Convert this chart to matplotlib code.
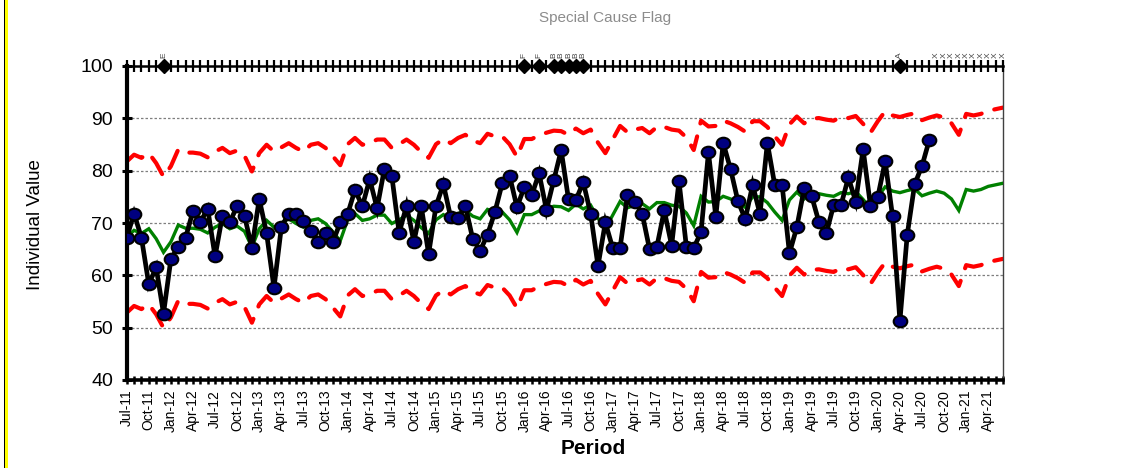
import numpy as np
import pandas as pd
import matplotlib
matplotlib.use("Agg")
import matplotlib.pyplot as plt
from matplotlib.path import Path
from matplotlib.transforms import Affine2D
from matplotlib.patches import Rectangle

plt.rcParams['font.family'] = ['Liberation Sans', 'DejaVu Sans']

# ---------------- data ----------------
periods = list(pd.date_range('2011-07-01', periods=120, freq='MS').strftime('%b-%y'))

individual_values = [
    67.2, 71.8, 67.2, 58.3, 61.5, 52.7, 63.1, 65.5, 67.2, 72.3,
    70.2, 72.7, 63.6, 71.4, 70.1, 73.3, 71.3, 65.3, 74.6, 68.0,
    57.6, 69.2, 71.8, 71.7, 70.4, 68.5, 66.4, 68.1, 66.4, 70.1,
    71.7, 76.3, 73.2, 78.4, 72.8, 80.4, 79.0, 68.1, 73.3, 66.4,
    73.2, 64.1, 73.2, 77.4, 71.1, 70.9, 73.2, 66.9, 64.7, 67.8,
    72.1, 77.6, 79.0, 73.0, 76.9, 75.3, 79.5, 72.5, 78.2, 83.9,
    74.5, 74.4, 77.8, 71.8, 61.8, 70.1, 65.2, 65.3, 75.3, 74.1,
    71.8, 65.0, 65.5, 72.4, 65.7, 78.0, 65.5, 65.2, 68.3, 83.5,
    71.2, 85.3, 80.3, 74.2, 70.7, 77.3, 71.7, 85.3, 77.3, 77.3,
    64.2, 69.2, 76.6, 75.2, 70.2, 68.0, 73.4, 73.4, 78.7, 74.1,
    84.1, 73.3, 75.0, 81.8, 71.3, 51.3, 67.8, 77.4, 80.9, 85.9,
]

center_line = [
    67.3, 68.6, 68.0, 68.9, 67.0, 64.4, 66.4, 69.6, 69.0, 69.0,
    68.8, 68.1, 69.2, 69.9, 68.9, 69.4, 68.4, 65.4, 68.9, 70.5,
    69.2, 70.0, 70.8, 69.9, 69.2, 70.5, 70.8, 69.9, 68.3, 66.6,
    70.6, 71.8, 70.5, 70.8, 71.5, 71.5, 69.9, 70.6, 71.5, 70.5,
    69.1, 68.0, 70.6, 71.6, 70.8, 71.8, 72.4, 71.3, 70.8, 72.6,
    72.1, 72.1, 70.6, 68.2, 71.6, 71.6, 72.3, 72.8, 73.2, 73.1,
    72.4, 73.6, 72.7, 73.4, 70.9, 68.9, 71.5, 74.1, 72.9, 73.4,
    73.7, 72.7, 73.9, 73.9, 73.4, 73.2, 71.9, 69.5, 75.1, 74.0,
    74.1, 75.1, 74.6, 73.9, 73.0, 75.0, 75.0, 73.9, 72.1, 70.5,
    74.4, 75.9, 74.6, 75.5, 75.6, 75.3, 75.1, 75.8, 75.6, 76.0,
    74.5, 72.8, 75.0, 76.9, 76.1, 75.8, 76.2, 76.5, 75.2, 75.7,
    76.1, 75.7, 74.6, 72.4, 76.4, 76.1, 76.4, 77.0, 77.3, 77.6,
]
limit_half_width = 14.45
upper_limit = [c + limit_half_width for c in center_line]
lower_limit = [c - limit_half_width for c in center_line]

flag_positions = [5, 54, 56, 58, 59, 60, 61, 62, 105,
                  110, 111, 112, 113, 114, 115, 116, 117, 118, 119]
flag_labels = ['E', 'F', 'F', 'B', 'B', 'B', 'B', 'B', 'A',
               'X', 'X', 'X', 'X', 'X', 'X', 'X', 'X', 'X', 'X']
y_ticks = [40, 50, 60, 70, 80, 90, 100]

# ---------------- figure ----------------
W, H = 1129, 468
fig = plt.figure(figsize=(W / 100, H / 100), dpi=100)
fig.patch.set_facecolor('white')
ax = fig.add_axes([126.7 / W, 1 - 380 / H, (1003 - 126.7) / W, (380 - 66) / H])

n = len(periods)
x_all = np.arange(n)
x_data = np.arange(len(individual_values))

ax.set_xlim(0, n - 1)
ax.set_ylim(40, 100)

# grid
for yv in y_ticks[1:-1]:
    ax.axhline(yv, color='#7f7f7f', lw=0.9, ls=(0, (2.0, 1.6)), zorder=1)

# limits
red_style = dict(color='#FF0000', lw=3.0, ls=(0, (4.6, 3.2)),
                 dash_capstyle='round', zorder=2)
ax.plot(x_all, upper_limit, **red_style)
ax.plot(x_all, lower_limit, **red_style)

# center line
ax.plot(x_all, center_line, color='#008000', lw=2.4, zorder=3,
        solid_joinstyle='miter')

# data
ell = Path.unit_circle().transformed(Affine2D().scale(1.0, 0.85))
ax.plot(x_data, individual_values, color='black', lw=3.4, zorder=5,
        marker=ell, ms=9.8, mfc='#000080', mec='black', mew=1.5,
        solid_joinstyle='miter')

# special cause flag line at top
ax.plot(x_all, [100] * n, color='black', lw=1.8, marker='|', ms=8, mew=1.6,
        clip_on=False, zorder=6)
diamond_idx = [p for p, l in zip(flag_positions, flag_labels) if l != 'X']
ax.plot(diamond_idx, [100] * len(diamond_idx), ls='none', marker='D', ms=7,
        color='black', clip_on=False, zorder=7)
for p, l in zip(flag_positions, flag_labels):
    ax.annotate(l, (p, 100), xytext=(0, 6), textcoords='offset points',
                rotation=90, ha='center', va='bottom', fontsize=6,
                color='#404040', annotation_clip=False)

# axes styling
ax.spines['top'].set_visible(False)
ax.spines['left'].set_linewidth(3.0)
ax.spines['bottom'].set_linewidth(2.6)
ax.spines['right'].set_linewidth(1.0)
ax.spines['right'].set_color('#404040')

ax.set_yticks(y_ticks)
ax.set_yticklabels([str(v) for v in y_ticks], fontsize=14)
ax.tick_params(axis='y', direction='inout', length=7.5, width=2.2, pad=6)

ax.set_xticks(x_all)
ax.set_xticklabels([p if i % 3 == 0 else '' for i, p in enumerate(periods)],
                   rotation=90, fontsize=10)
ax.tick_params(axis='x', direction='inout', length=6, width=1.8, pad=4)

# texts
fig.text(605 / W, 1 - 18 / H, 'Special Cause Flag', ha='center', va='center',
         fontsize=11, color='#8c8c8c')
fig.text(36 / W, 1 - 225 / H, 'Individual Value', rotation=90, ha='center',
         va='center', fontsize=13.5)
fig.text(593 / W, 1 - 448 / H, 'Period', ha='center', va='center',
         fontsize=15, fontweight='bold')

# left frame border
fig.add_artist(Rectangle((3.5 / W, 0), 1.2 / W, 1, transform=fig.transFigure,
                         color='black', lw=0))
fig.add_artist(Rectangle((4.7 / W, 0), 3.0 / W, 1, transform=fig.transFigure,
                         color='#FFFF00', lw=0))

fig.savefig('out.png', dpi=100)
